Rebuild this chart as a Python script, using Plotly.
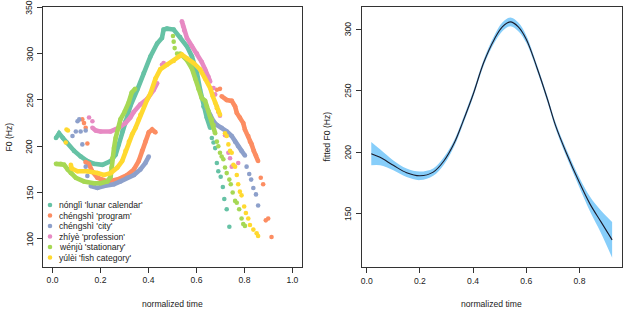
import plotly.graph_objects as go

# ---------------- data: left panel (raw F0 contours) ----------------
labels = ["nónglì 'lunar calendar'", "chéngshì 'program'", "chéngshì 'city'",
          "zhíyè 'profession'", "wénjù 'stationary'", "yúlèi 'fish category'"]
colors = ["#66C2A5", "#FC8D62", "#8DA0CB", "#E78AC3", "#A6D854", "#FFD92F"]

# nónglì
teal_line_x = [0.014, 0.027, 0.043, 0.059, 0.090, 0.117, 0.145, 0.173, 0.208, 0.242, 0.263, 0.276, 0.291, 0.304,
               0.325, 0.353, 0.380, 0.408, 0.436, 0.456, 0.463, 0.477, 0.505, 0.532, 0.560, 0.581, 0.602, 0.615,
               0.629, 0.643, 0.657]
teal_line_y = [209, 214, 209, 204, 195, 189, 184, 181, 180, 184, 191, 202, 216, 227,
               244, 261, 279, 297, 311, 317, 326, 327, 326, 318, 308, 297, 279, 261,
               243, 231, 220]
teal_dot_x = [0.664, 0.671, 0.678, 0.685, 0.691, 0.701, 0.710, 0.716, 0.726, 0.737]
teal_dot_y = [209, 204, 198, 182, 173, 167, 156, 143, 132, 113]

# chéngshì 'program'
orange_line_x = [0.137, 0.151, 0.165, 0.187, 0.228, 0.270, 0.311, 0.339, 0.359, 0.373, 0.387, 0.401, 0.415, 0.429,
                 None,
                 0.705, 0.726, 0.747, 0.761, 0.768, 0.781, 0.795, 0.802, 0.816, 0.823, 0.830, 0.839, 0.848, 0.857]
orange_line_y = [183, 181, 173, 166, 162, 164, 169, 175, 184, 195, 205, 215, 218, 215,
                 None,
                 254, 250, 249, 243, 236, 231, 225, 218, 211, 205, 202, 195, 190, 184]
orange_dot_x = [0.124, 0.131, 0.138, 0.145, 0.685, 0.698, 0.868, 0.878, 0.889, 0.899, 0.913]
orange_dot_y = [229, 225, 220, 203, 261, 262, 166, 159, 120, 122, 102]

# chéngshì 'city'
blue_line_x = [0.159, 0.187, 0.214, 0.256, 0.283, 0.311, 0.339, 0.366, 0.387, 0.401,
               None,
               0.643, 0.657, 0.671, 0.685, 0.705, 0.726, 0.747, 0.761, 0.774, 0.788, 0.802]
blue_line_y = [157, 155, 157, 159, 162, 166, 169, 175, 182, 189,
               None,
               241, 234, 227, 223, 220, 216, 211, 205, 200, 195, 190]
blue_dot_x = [0.083, 0.097, 0.104, 0.111, 0.117, 0.138, 0.124, 0.138, 0.145,
              0.809, 0.820, 0.828, 0.837, 0.848, 0.857]
blue_dot_y = [211, 216, 227, 229, 216, 217, 202, 178, 168,
              178, 170, 164, 155, 148, 136]

# zhíyè
pink_line_x = [0.166, 0.180, 0.200, 0.242, 0.276, 0.304, 0.324, 0.338, 0.365, 0.394, 0.422, 0.436,
               None,
               0.539, 0.544, 0.549, 0.560, 0.581, 0.602, 0.622, 0.636, 0.650, 0.657]
pink_line_y = [220, 217, 216, 216, 220, 225, 231, 237, 245, 251, 261, 268,
               None,
               335, 330, 325, 317, 308, 300, 291, 283, 275, 270]
pink_dot_x = [0.152, 0.166, 0.456, 0.463, 0.671, 0.678, 0.685, 0.691, 0.698, 0.719, 0.733, 0.740, 0.747, 0.774]
pink_dot_y = [231, 227, 288, 290, 263, 256, 243, 237, 233, 212, 193, 187, 178, 182]

# wénjù
green_line_x = [0.014, 0.034, 0.048, 0.063, 0.076, 0.097, 0.131, 0.173, 0.200, 0.228, 0.242, 0.246, 0.249, 0.256,
                0.263, 0.276, 0.283, 0.300, 0.317, 0.330, 0.344,
                None,
                0.532, 0.560, 0.581, 0.595, 0.608, 0.622, 0.636, 0.643, 0.650, 0.657, 0.664, 0.671, 0.678]
green_line_y = [181, 181, 180, 175, 171, 166, 162, 160, 160, 162, 167, 177, 187, 198,
                209, 220, 229, 237, 247, 258, 262,
                None,
                300, 293, 284, 273, 262, 252, 249, 243, 238, 232, 229, 223, 214]
green_dot_x = [0.502, 0.505, 0.509, 0.519,
               0.685, 0.691, 0.698, 0.705, 0.712, 0.719, 0.726, 0.737, 0.743, 0.751, 0.761, 0.768, 0.778,
               0.788, 0.795, 0.802]
green_dot_y = [319, 313, 306, 300,
               205, 200, 193, 189, 186, 177, 171, 164, 159, 150, 141, 139, 132,
               122, 116, 114]

# yúlèi
yellow_line_x = [0.076, 0.080, 0.104, 0.145, 0.187, 0.214, 0.242, 0.270, 0.290, 0.304, 0.318, 0.332, 0.346, 0.359,
                 0.366, 0.394, 0.408, 0.429, 0.449, 0.477, 0.505, 0.525, 0.539, 0.560, 0.588, 0.615, 0.636,
                 0.657, 0.668, 0.678, 0.685, 0.691, 0.698]
yellow_line_y = [180, 176, 173, 173, 171, 169, 171, 177, 184, 195, 205, 213, 220, 229,
                 234, 250, 257, 273, 283, 288, 292, 297, 299, 295, 290, 283, 273,
                 263, 254, 247, 241, 238, 234]
yellow_dot_x = [0.058, 0.064, 0.055,
                0.719, 0.726, 0.733, 0.740, 0.747, 0.754, 0.761, 0.768, 0.774, 0.781, 0.788, 0.799, 0.806,
                0.816, 0.823, 0.837, 0.851, 0.857]
yellow_dot_y = [218, 217, 204,
                214, 211, 202, 195, 193, 180, 178, 169, 159, 151, 147, 135, 128,
                122, 115, 110, 106, 103]

series = [
    (teal_line_x, teal_line_y, teal_dot_x, teal_dot_y),
    (orange_line_x, orange_line_y, orange_dot_x, orange_dot_y),
    (blue_line_x, blue_line_y, blue_dot_x, blue_dot_y),
    (pink_line_x, pink_line_y, pink_dot_x, pink_dot_y),
    (green_line_x, green_line_y, green_dot_x, green_dot_y),
    (yellow_line_x, yellow_line_y, yellow_dot_x, yellow_dot_y),
]

# ---------------- data: right panel (fitted F0 with CI) ----------------
fit_x = [0.017, 0.05, 0.10, 0.15, 0.20, 0.25, 0.29, 0.33, 0.36, 0.40, 0.44, 0.48, 0.51, 0.54, 0.57, 0.60,
         0.64, 0.68, 0.71, 0.75, 0.80, 0.84, 0.88, 0.923]
fit_y = [199, 196, 189.5, 183.5, 181, 184, 193, 208, 224, 247, 273, 292, 302, 306, 302, 292,
         269, 243, 222, 200, 175.5, 158, 144, 129]
fit_se = [9.5, 6.5, 4, 3.5, 3.5, 3, 3, 2.5, 2.5, 2.5, 2.5, 3, 3.5, 3.5, 3.5, 3,
          2.5, 2.5, 2.5, 3, 4, 6, 9, 14.5]

left_xticks = [0.0, 0.2, 0.4, 0.6, 0.8, 1.0]
left_yticks = [100, 150, 200, 250, 300, 350]
right_xticks = [0.0, 0.2, 0.4, 0.6, 0.8]
right_yticks = [150, 200, 250, 300]

# ---------------- figure ----------------
W, H = 640, 329
FONT = "Liberation Sans, Arial, Helvetica, sans-serif"
TXT = "#222222"
FS = 8.6
MS = 4.6

fig = go.Figure()

for (lx, ly, dx, dy), col in zip(series, colors):
    fig.add_trace(go.Scatter(x=lx, y=ly, mode="lines+markers", xaxis="x", yaxis="y",
                             line=dict(color=col, width=MS), marker=dict(color=col, size=MS),
                             connectgaps=False, showlegend=False, hoverinfo="skip"))
    fig.add_trace(go.Scatter(x=dx, y=dy, mode="markers", xaxis="x", yaxis="y",
                             marker=dict(color=col, size=MS), showlegend=False, hoverinfo="skip"))

upper = [y + s for y, s in zip(fit_y, fit_se)]
lower = [y - s for y, s in zip(fit_y, fit_se)]
fig.add_trace(go.Scatter(x=fit_x, y=lower, mode="lines", xaxis="x2", yaxis="y2",
                         line=dict(width=0, color="#87CEFA", shape="spline"), showlegend=False))
fig.add_trace(go.Scatter(x=fit_x, y=upper, mode="lines", xaxis="x2", yaxis="y2", fill="tonexty",
                         fillcolor="#87CEFA", line=dict(width=0, color="#87CEFA", shape="spline"),
                         showlegend=False))
fig.add_trace(go.Scatter(x=fit_x, y=fit_y, mode="lines", xaxis="x2", yaxis="y2",
                         line=dict(width=1.1, color="#1a1a2a", shape="spline"), showlegend=False))

def px_x(p):
    return p / W

def px_y(p):
    return 1 - p / H

axis_common = dict(showgrid=False, zeroline=False, showline=True, mirror=True, linecolor="#333333",
                   linewidth=1, ticks="outside", ticklen=5, tickwidth=1, tickcolor="#333333",
                   ticklabeloverflow="allow",
                   tickfont=dict(family=FONT, size=FS, color=TXT))

fig.update_layout(
    width=W, height=H, margin=dict(l=0, r=0, t=0, b=0),
    paper_bgcolor="white", plot_bgcolor="white", showlegend=False,
    xaxis=dict(domain=[px_x(43), px_x(302)], range=[-0.04, 1.04], tickvals=left_xticks,
               ticktext=[f"{v:.1f}" for v in left_xticks], anchor="y", **axis_common),
    yaxis=dict(domain=[px_y(267), px_y(7)], range=[69.6, 350.4], tickvals=left_yticks,
               showticklabels=False, anchor="x", **axis_common),
    xaxis2=dict(domain=[px_x(361.7), px_x(621.7)], range=[-0.019, 0.959], tickvals=right_xticks,
                ticktext=[f"{v:.1f}" for v in right_xticks], anchor="y2", **axis_common),
    yaxis2=dict(domain=[px_y(267.3), px_y(7)], range=[106.7, 318.1], tickvals=right_yticks,
                showticklabels=False, anchor="x2", **axis_common),
)

# rotated y tick labels (R style, parallel to the axis)
for v in left_yticks:
    fig.add_annotation(xref="paper", yref="y", x=px_x(29.5), y=v, text=str(v), textangle=-90,
                       showarrow=False, xanchor="center", yanchor="middle",
                       font=dict(family=FONT, size=FS, color=TXT))
for v in right_yticks:
    fig.add_annotation(xref="paper", yref="y2", x=px_x(348), y=v, text=str(v), textangle=-90,
                       showarrow=False, xanchor="center", yanchor="middle",
                       font=dict(family=FONT, size=FS, color=TXT))

annots = [
    dict(text="normalized time", x=px_x(172.5), y=px_y(304.3)),
    dict(text="normalized time", x=px_x(491.7), y=px_y(304.3)),
    dict(text="F0 (Hz)", x=px_x(8.5), y=px_y(137), textangle=-90),
    dict(text="fitted F0 (Hz)", x=px_x(326.5), y=px_y(137), textangle=-90),
]
for a in annots:
    fig.add_annotation(xref="paper", yref="paper", showarrow=False, xanchor="center", yanchor="middle",
                       font=dict(family=FONT, size=FS, color=TXT), **a)

# legend (drawn manually: bottom-left inside left panel)
row0, pitch = 205.0, 10.5
for i, (lab, col) in enumerate(zip(labels, colors)):
    yy = px_y(row0 + i * pitch)
    fig.add_shape(type="circle", xref="paper", yref="paper", xsizemode="pixel", ysizemode="pixel",
                  xanchor=px_x(50), yanchor=yy, x0=-2.3, x1=2.3, y0=-2.3, y1=2.3,
                  fillcolor=col, line=dict(width=0))
    fig.add_annotation(xref="paper", yref="paper", x=px_x(56.5), y=yy, text=lab, showarrow=False,
                       xanchor="left", yanchor="middle", font=dict(family=FONT, size=FS, color=TXT))

fig.write_html("out.html", config={"displayModeBar": False},
               post_script="document.body.style.margin='0px';document.body.style.padding='0px';")
